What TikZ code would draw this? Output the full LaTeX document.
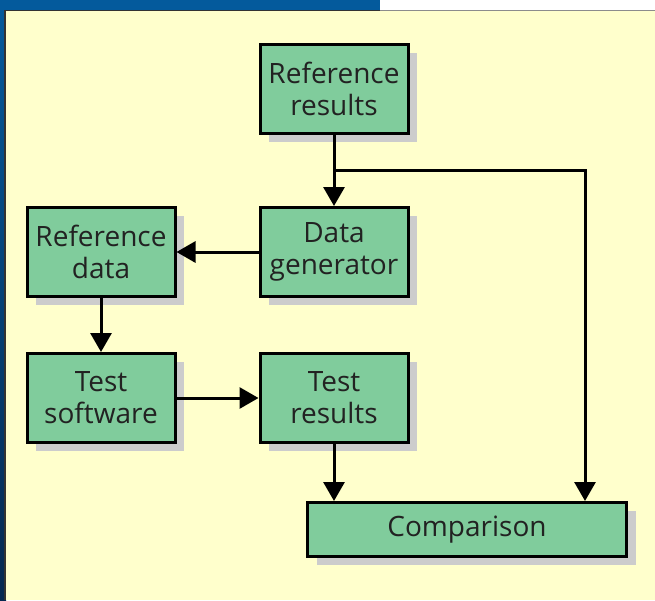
\documentclass[tikz,border=0pt]{standalone}
\usepackage{fontspec}
\setmainfont{Open Sans}
\usetikzlibrary{arrows.meta,positioning,shadows}
\definecolor{panel}{RGB}{255,255,204}
\definecolor{boxgreen}{RGB}{128,204,156}
\definecolor{barblue}{RGB}{4,90,156}
\definecolor{deepblue}{RGB}{6,40,80}
\definecolor{ink}{RGB}{34,34,34}

\begin{document}
\begin{tikzpicture}[x=1pt,y=-1pt,>={Triangle[length=19pt,width=21pt]}]
  \tikzset{
    blk/.style={draw=black,line width=3pt,fill=boxgreen,inner sep=0pt,
                minimum width=148pt,minimum height=89pt,align=center,text=ink,
                font=\fontsize{28}{32}\selectfont,
                drop shadow={shadow xshift=9pt,shadow yshift=-8pt,fill=black!20,opacity=1}},
    link/.style={->,line width=3pt}
  }
  \useasboundingbox (0,0) rectangle (655,600);
  \fill[white] (0,0) rectangle (655,10);
  \shade[top color=barblue,bottom color=deepblue] (0,0) rectangle (6,600);
  \fill[barblue] (0,0) rectangle (380,10);
  \fill[panel] (5,10) rectangle (655,600);
  \draw[black!80,line width=1.5pt] (5,600) -- (5,10.5) -- (380,10.5);
  \draw[black!45,line width=1pt] (380,10.5) -- (655,10.5);

  \node[blk] (rr) at (334,89) {Reference\\results};
  \node[blk,below=71pt of rr] (dg) {Data\\generator};
  \node[blk,left=82pt of dg] (rd) {Reference\\data};
  \node[blk,below=54pt of rd] (ts) {Test\\software};
  \node[blk,right=82pt of ts] (tr) {Test\\results};
  \node[blk,minimum width=319pt,minimum height=54pt] (cmp) at (467,529.5) {Comparison};
  \coordinate[below=35pt of rr] (br);
  \coordinate[left=43pt of cmp.north east] (cin);

  \draw[link] (rr) -- (dg);
  \draw[link] (br) -| (cin);
  \draw[link] (dg) -- (rd);
  \draw[link] (rd) -- (ts);
  \draw[link] (ts) -- (tr);
  \draw[link] (tr) -- (tr |- cmp.north);
\end{tikzpicture}
\end{document}
